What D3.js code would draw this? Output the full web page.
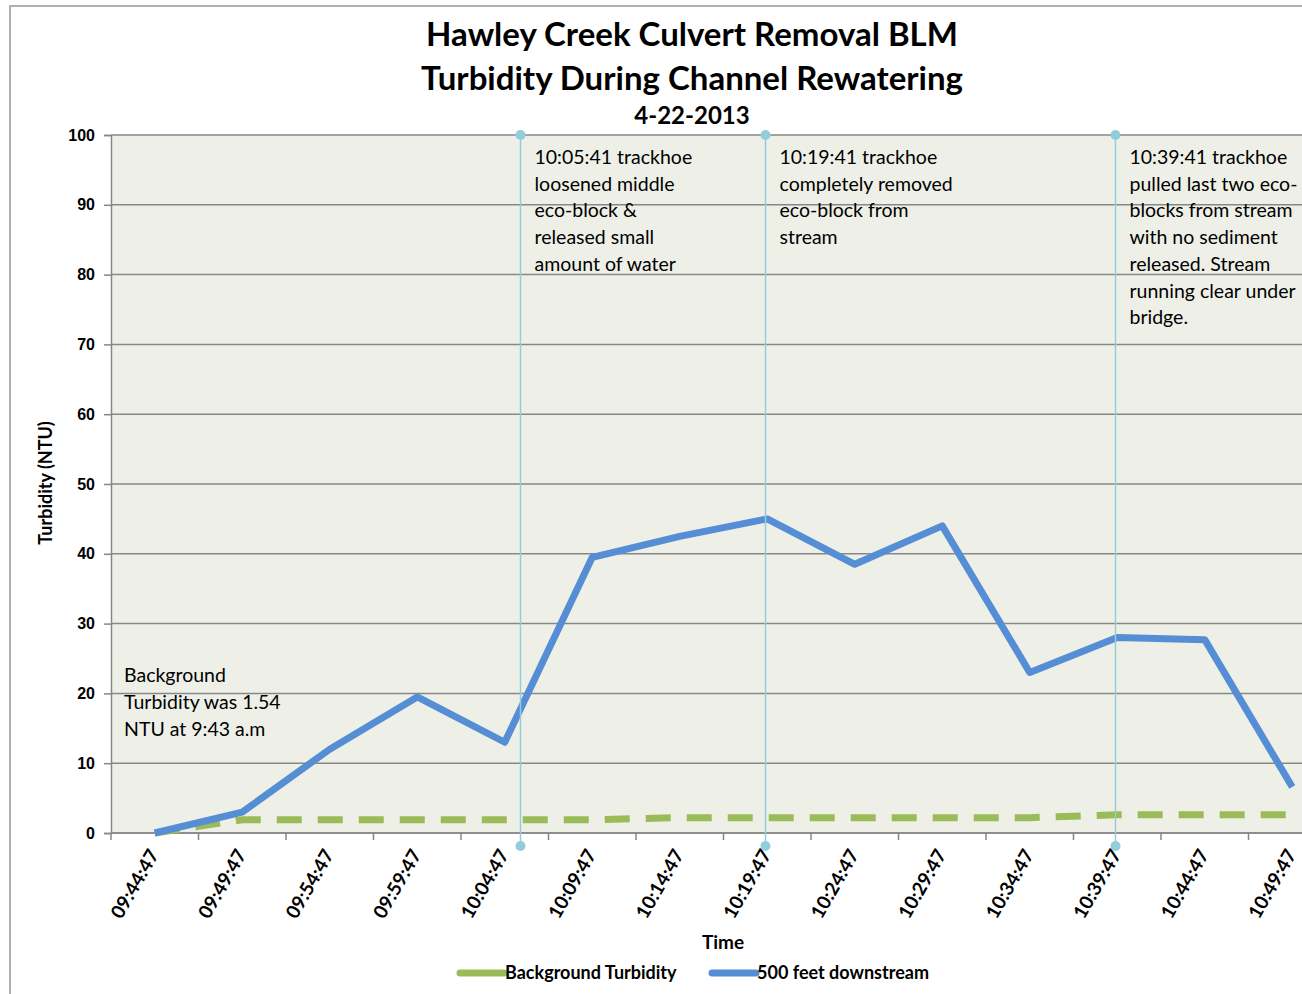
<!DOCTYPE html>
<html>
<head>
<meta charset="utf-8">
<script src="https://cdn.jsdelivr.net/npm/d3@7"></script>
<style>
  html, body { margin: 0; padding: 0; background: #fff; }
  svg { display: block; font-family: Lato, "Noto Sans", sans-serif; }
</style>
</head>
<body>
<div class="chart"></div>
<script>
// readings every 5 minutes
const times = ['09:44:47', '09:49:47', '09:54:47', '09:59:47', '10:04:47', '10:09:47', '10:14:47',
  '10:19:47', '10:24:47', '10:29:47', '10:34:47', '10:39:47', '10:44:47', '10:49:47'];
const background = [0, 1.9, 1.9, 1.9, 1.9, 1.9, 2.2, 2.2, 2.2, 2.2, 2.2, 2.6, 2.6, 2.6];
const downstream = [0, 3, 12, 19.5, 13, 39.5, 42.5, 45, 38.5, 44, 23, 28, 27.7, 6.6];
const yTicks = [0, 10, 20, 30, 40, 50, 60, 70, 80, 90, 100];

const eventTimes = ['10:05:41', '10:19:41', '10:39:41'];
const eventNotes = [
  ['10:05:41 trackhoe', 'loosened middle', 'eco-block &', 'released small', 'amount of water'],
  ['10:19:41 trackhoe', 'completely removed', 'eco-block from', 'stream'],
  ['10:39:41 trackhoe', 'pulled last two eco-', 'blocks from stream', 'with no sediment', 'released.  Stream', 'running clear under', 'bridge.']
];
const bgNote = ['Background', 'Turbidity was 1.54', 'NTU at 9:43 a.m'];

const titleLines = ['Hawley Creek Culvert Removal BLM', 'Turbidity During Channel Rewatering'];
const subTitle = '4-22-2013';

const W = 1302, H = 994;
const margin = { top: 135, left: 111 };
const plotW = 1225, plotH = 698;

const parse = d3.timeParse('%H:%M:%S');
const fmt = d3.timeFormat('%H:%M:%S');
const t = times.map(parse);

let svg = d3.select('.chart').append('svg').attr('width', W).attr('height', H);

// outer chart border (cropped on the right / bottom)
svg.append('rect').attr('x', 10).attr('y', 6).attr('width', 1400).attr('height', 1100)
  .attr('fill', '#fff').attr('stroke', '#b0b0b0').attr('stroke-width', 2);

let x = d3.scaleTime()
  .domain([d3.timeSecond.offset(t[0], -150), d3.timeSecond.offset(t[t.length - 1], 150)])
  .range([0, plotW]);
let y = d3.scaleLinear().domain([0, 100]).range([plotH, 0]);

let g = svg.append('g').attr('transform', 'translate(' + margin.left + ',' + margin.top + ')');

g.append('rect').attr('width', plotW).attr('height', plotH).attr('fill', '#eef0e8');

// gridlines
g.append('g').selectAll('line').data(yTicks).enter().append('line')
  .attr('x1', 0).attr('x2', plotW)
  .attr('y1', d => y(d)).attr('y2', d => y(d))
  .attr('stroke', '#878787').attr('stroke-width', 1.5);

// y axis
let yAxis = d3.axisLeft(y).tickValues(yTicks).tickSize(7).tickPadding(9);
let ya = g.append('g').call(yAxis);
ya.select('.domain').attr('stroke', '#878787').attr('stroke-width', 1.5);
ya.selectAll('.tick line').attr('stroke', '#878787').attr('stroke-width', 1.5);
ya.selectAll('text').attr('font-size', 16).attr('font-weight', 'bold').attr('fill', '#000');

// x axis: tick marks between categories, labels at category centres
let bounds = t.map(d => d3.timeSecond.offset(d, -150)).concat([d3.timeSecond.offset(t[t.length - 1], 150)]);
let xa = g.append('g').attr('transform', 'translate(0,' + plotH + ')');
xa.append('line').attr('x1', 0).attr('x2', plotW).attr('stroke', '#878787').attr('stroke-width', 1.5);
xa.selectAll('.tk').data(bounds).enter().append('line').attr('class', 'tk')
  .attr('x1', d => x(d)).attr('x2', d => x(d)).attr('y1', 0).attr('y2', 7)
  .attr('stroke', '#878787').attr('stroke-width', 1.5);
xa.selectAll('.lbl').data(t).enter().append('text').attr('class', 'lbl')
  .attr('transform', d => 'translate(' + (x(d) - 1) + ',18) rotate(-60)')
  .attr('text-anchor', 'end').attr('dy', '0.35em')
  .attr('font-size', 19).attr('font-weight', 'bold')
  .text(d => fmt(d));

// series
let line = d3.line().x((d, i) => x(t[i])).y(d => y(d));

g.append('path').datum(background)
  .attr('fill', 'none').attr('stroke', '#9bbb59').attr('stroke-width', 7)
  .attr('stroke-dasharray', '25,16').attr('d', line);

g.append('path').datum(downstream)
  .attr('fill', 'none').attr('stroke', '#558ed5').attr('stroke-width', 7)
  .attr('stroke-linejoin', 'round').attr('d', line);

// event markers
let ev = g.selectAll('.ev').data(eventTimes.map(parse)).enter().append('g').attr('class', 'ev');
ev.append('line')
  .attr('x1', d => x(d)).attr('x2', d => x(d))
  .attr('y1', y(100)).attr('y2', plotH + 13)
  .attr('stroke', '#92cddc').attr('stroke-width', 1.5);
ev.append('circle').attr('cx', d => x(d)).attr('cy', y(100)).attr('r', 5).attr('fill', '#92cddc');
ev.append('circle').attr('cx', d => x(d)).attr('cy', plotH + 13).attr('r', 5).attr('fill', '#92cddc');

ev.append('text')
  .attr('font-size', 19.5).attr('fill', '#000')
  .selectAll('tspan').data((d, i) => eventNotes[i].map(s => ({ s: s, x: x(d) + 14 })))
  .enter().append('tspan')
  .attr('x', d => d.x).attr('y', (d, i) => 29 + i * 26.7)
  .text(d => d.s);

g.append('text').attr('font-size', 19.5)
  .selectAll('tspan').data(bgNote).enter().append('tspan')
  .attr('x', 13).attr('y', (d, i) => 547 + i * 27)
  .text(d => d);

// titles
let cx = 692;
svg.selectAll('.title').data(titleLines).enter().append('text').attr('class', 'title')
  .attr('x', cx).attr('y', (d, i) => 46 + i * 44)
  .attr('text-anchor', 'middle').attr('font-size', 33).attr('font-weight', 'bold')
  .text(d => d);
svg.append('text').attr('x', cx).attr('y', 124).attr('text-anchor', 'middle')
  .attr('font-size', 24).attr('font-weight', 'bold').text(subTitle);

// axis titles
svg.append('text').attr('transform', 'translate(52,483) rotate(-90)')
  .attr('text-anchor', 'middle').attr('font-size', 18).attr('font-weight', 'bold')
  .text('Turbidity (NTU)');
svg.append('text').attr('x', 723).attr('y', 949).attr('text-anchor', 'middle')
  .attr('font-size', 19).attr('font-weight', 'bold').text('Time');

// legend
const legendItems = [
  { name: 'Background Turbidity', color: '#9bbb59', x: 460 },
  { name: '500 feet downstream', color: '#558ed5', x: 712 }
];
let lg = svg.selectAll('.lg').data(legendItems).enter().append('g').attr('class', 'lg')
  .attr('transform', d => 'translate(' + d.x + ',973)');
lg.append('line').attr('x1', 0).attr('x2', 44)
  .attr('stroke', d => d.color).attr('stroke-width', 7).attr('stroke-linecap', 'round');
lg.append('text').attr('x', 45).attr('dy', '0.35em')
  .attr('font-size', 18).attr('font-weight', 'bold').text(d => d.name);
</script>
</body>
</html>
